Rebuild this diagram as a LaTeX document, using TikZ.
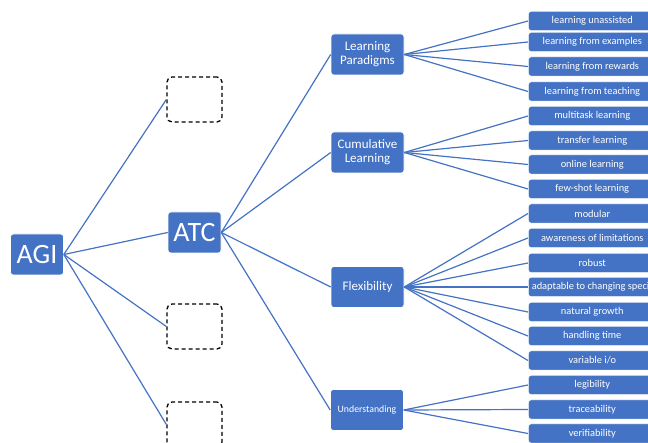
\documentclass[tikz,border=0pt]{standalone}
\usepackage{fontspec}
\setmainfont{Carlito}
\definecolor{obl}{RGB}{68,114,196}
\tikzset{
  box/.style={fill=obl, draw=white, line width=0.6pt, rounded corners=3pt, text=white, align=center, inner sep=1pt},
  bigbox/.style={box, minimum width=53pt, minimum height=41pt, font=\fontsize{28}{30}\selectfont},
  midbox/.style={box, minimum width=73pt, minimum height=41pt, font=\fontsize{13}{14}\selectfont},
  leaf/.style={box, anchor=west, minimum width=128pt, minimum height=19.5pt, inner xsep=3.5pt, font=\fontsize{10.4}{11}\selectfont},
  ghost/.style={draw=black, dashed, dash pattern=on 4pt off 3pt, line width=1.3pt, rounded corners=5pt, minimum width=55pt, minimum height=45pt},
  link/.style={draw=obl, line width=1.2pt}
}
\begin{document}
\begin{tikzpicture}[x=1pt, y=-1pt]
\useasboundingbox (0,0) rectangle (648,443);
\clip (0,0) rectangle (648,443);
% level 0/1
\node[bigbox] (agi) at (37,254.5) {AGI};
\node[bigbox] (atc) at (194.5,232.5) {ATC};
\node[ghost] (g1) at (194.5,99.5) {};
\node[ghost] (g2) at (194.5,326.5) {};
\node[ghost] (g3) at (194.5,424.5) {};
% level 2
\node[midbox] (lp) at (367.5,54.5) {Learning\\Paradigms};
\node[midbox] (cl) at (367.5,152.5) {Cumulative\\Learning};
\node[midbox] (fx) at (367.5,287) {Flexibility};
\node[midbox, font=\fontsize{9.8}{11}\selectfont] (un) at (367,410) {Understanding};
% leaves
\node[leaf] (l1) at (528,21) {learning unassisted};
\node[leaf] (l2) at (528,42) {learning from examples};
\node[leaf] (l3) at (528,66.5) {learning from rewards};
\node[leaf] (l4) at (528,91.5) {learning from teaching};
\node[leaf] (c1) at (528,116) {multitask learning};
\node[leaf] (c2) at (528,140.5) {transfer learning};
\node[leaf] (c3) at (528,164.5) {online learning};
\node[leaf] (c4) at (528,189) {few-shot learning};
\node[leaf] (f1) at (528,213.5) {modular};
\node[leaf] (f2) at (528,238) {awareness of limitations};
\node[leaf] (f3) at (528,263) {robust};
\node[leaf, minimum width=0pt] (f4) at (528,287) {adaptable to changing specifications};
\node[leaf] (f5) at (528,312) {natural growth};
\node[leaf] (f6) at (528,336) {handling time};
\node[leaf] (f7) at (528,360.5) {variable i/o};
\node[leaf] (u1) at (528,385) {legibility};
\node[leaf] (u2) at (528,409.5) {traceability};
\node[leaf] (u3) at (528,433.5) {verifiability};
% connectors
\foreach \t in {g1,atc,g2,g3} \draw[link] (agi.east) -- (\t.west);
\foreach \t in {lp,cl,fx,un} \draw[link] (atc.east) -- (\t.west);
\foreach \t in {l1,l2,l3,l4} \draw[link] (lp.east) -- (\t.west);
\foreach \t in {c1,c2,c3,c4} \draw[link] (cl.east) -- (\t.west);
\foreach \t in {f1,f2,f3,f4,f5,f6,f7} \draw[link] (fx.east) -- (\t.west);
\foreach \t in {u1,u2,u3} \draw[link] (un.east) -- (\t.west);
\end{tikzpicture}
\end{document}
